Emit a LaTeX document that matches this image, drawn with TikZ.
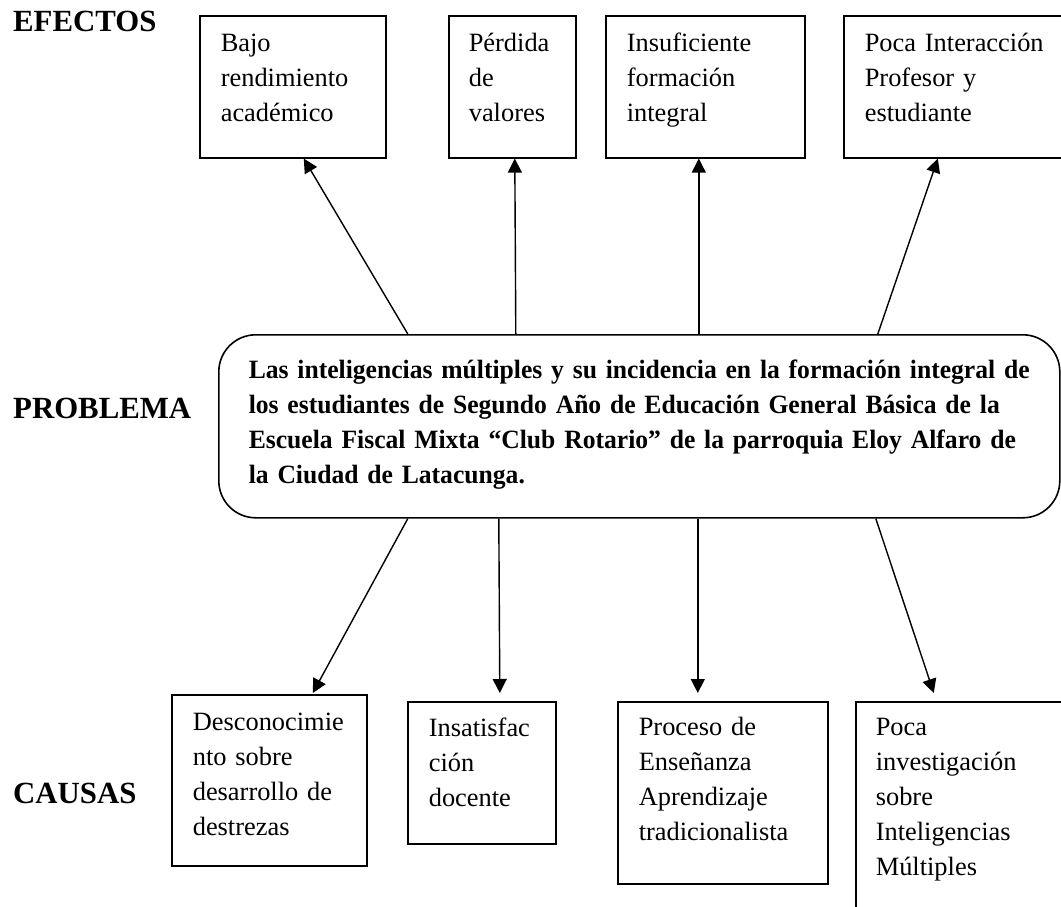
\documentclass[tikz,border=0pt]{standalone}
\usepackage{fontspec}
\setmainfont{Liberation Serif}
\newfontfamily\probfont{Liberation Serif}[FakeStretch=0.97]
\usetikzlibrary{shapes, arrows.meta, positioning}

\begin{document}
\begin{tikzpicture}[x=1pt, y=-1pt,
        cell/.style={draw, line width=1.6pt, rectangle, anchor=north west, align=left,
            inner xsep=21pt, inner ysep=0pt, text height=36pt,
            font=\fontsize{26.4}{34.8}\selectfont},
        title/.style={anchor=base west, inner sep=0pt,
            font=\fontsize{30.8}{36}\selectfont\bfseries},
        pointer/.style={line width=1.4pt, -{Triangle[length=14pt, width=14pt]}}]
        \clip (0,0) rectangle (1061,907);

        % Titles
        \node (efectos) [title] at (13,32) {EFECTOS};
        \node (problema) [title] at (13,418) {PROBLEMA};
        \node (causas) [title] at (13,803) {CAUSAS};

        % Problem
        \node (prob) [draw, line width=1.6pt, rounded corners=37pt, anchor=north west, align=left,
            text width=781pt, inner xsep=30pt, inner ysep=0pt, text height=44pt, text depth=139pt,
            font=\probfont\fontsize{26.4}{35}\selectfont\bfseries] at (218,334)
            {Las inteligencias múltiples y su incidencia en la formación integral de\\
             los estudiantes de Segundo Año de Educación General Básica de la\\
             Escuela Fiscal Mixta “Club Rotario” de la parroquia Eloy Alfaro de\\
             la Ciudad de Latacunga.};

        % Effects
        \node (ef1) [cell, text width=144pt, text depth=106pt] at (199,15) {Bajo\\ rendimiento\\ académico};
        \node (ef2) [cell, text width=87pt, inner xsep=20pt, text depth=106pt] at (448,15) {Pérdida\\ de\\ valores};
        \node (ef3) [cell, text width=157pt, text depth=106pt] at (605,15) {Insuficiente\\ formación\\ integral};
        \node (ef4) [cell, text width=205pt, text depth=106pt] at (843,15) {Poca Interacción\\ Profesor y\\ estudiante};

        % Causes
        \node (ca1) [cell, text width=153pt, text depth=135pt] at (171,694) {Desconocimie\\ nto sobre\\ desarrollo de\\ destrezas};
        \node (ca2) [cell, text width=106pt, text height=35pt, text depth=107pt] at (407,701) {Insatisfac\\ ción\\ docente};
        \node (ca3) [cell, text width=168pt, text height=34pt, text depth=148pt] at (617,701) {Proceso de\\ Enseñanza\\ Aprendizaje\\ tradicionalista};
        \node (ca4) [cell, text width=180pt, inner xsep=20pt, text height=34pt, text depth=240pt] at (855,701) {Poca\\ investigación\\ sobre\\ Inteligencias\\ Múltiples};

        % Arrows
        \draw[pointer] ([xshift=-231.5pt]prob.north) -- ([xshift=11pt]ef1.south);
        \draw[pointer] ([xshift=-123.5pt]prob.north) -- ([xshift=2.5pt]ef2.south);
        \draw[pointer] ([xshift=59.5pt]prob.north) -- ([xshift=-6.5pt]ef3.south);
        \draw[pointer] ([xshift=238.5pt]prob.north) -- ([xshift=-29.5pt]ef4.south);
        \draw[pointer] ([xshift=-231.5pt]prob.south) -- ([xshift=43.5pt, yshift=1pt]ca1.north);
        \draw[pointer] ([xshift=-140.5pt]prob.south) -- ([xshift=18pt, yshift=8pt]ca2.north);
        \draw[pointer] ([xshift=58.5pt]prob.south) -- ([xshift=-25pt, yshift=8pt]ca3.north);
        \draw[pointer] ([xshift=236.5pt]prob.south) -- ([xshift=-32pt, yshift=8pt]ca4.north);
    \end{tikzpicture}
\end{document}
